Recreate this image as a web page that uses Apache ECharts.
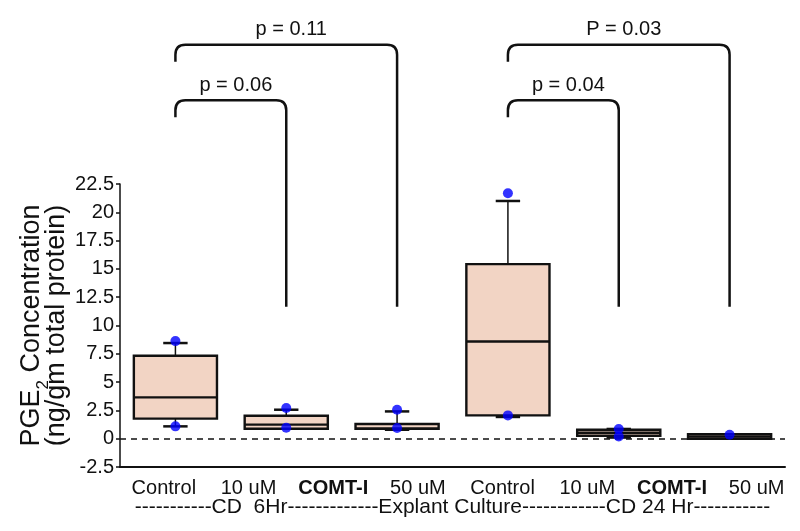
<!DOCTYPE html>
<html>
<head>
<meta charset="utf-8">
<script src="https://cdn.jsdelivr.net/npm/echarts@6/dist/echarts.min.js"></script>
<style>html,body{margin:0;padding:0;background:#fff;}#c{width:800px;height:531px;}</style>
</head>
<body>
<div id="c"></div>
<script>
// ---- data ----
const categories = ['Control 6Hr', '10 uM 6Hr', '50 uM 6Hr', 'Control 24Hr', '10 uM 24Hr', '50 uM 24Hr'];
const boxMin    = [1.09, 0.88, 0.79, 1.92, 0.10, 0.00];
const boxQ1     = [1.77, 0.88, 0.88, 2.06, 0.26, 0.00];
const boxMedian = [3.65, 1.24, 0.88, 8.59, 0.52, 0.20];
const boxQ3     = [7.33, 2.03, 1.30, 15.42, 0.79, 0.40];
const boxMax    = [8.45, 2.56, 2.41, 21.00, 0.86, 0.40];

const pointCat = [0, 0, 1, 1, 2, 2, 3, 3, 4, 4, 5];
const pointVal = [8.62, 1.09, 2.71, 0.97, 2.56, 0.94, 21.69, 2.06, 0.86, 0.20, 0.35];

const bracketFrom  = [0, 0, 3, 3];
const bracketTo    = [1, 2, 4, 5];
const bracketTop   = [29.9, 34.8, 29.9, 34.8];
const bracketHook  = [28.4, 33.3, 28.4, 33.3];
const bracketEnd   = [11.65, 11.65, 11.65, 11.65];
const bracketLabel = ['p = 0.06', 'p = 0.11', 'p = 0.04', 'P = 0.03'];

const groupLabels = ['Control', '10 uM', 'COMT-I', '50 uM', 'Control', '10 uM', 'COMT-I', '50 uM'];
const boldLabels  = ['COMT-I'];
const footerText  = '-----------CD  6Hr-------------Explant Culture------------CD 24 Hr-----------';

const yTicksMin = -2.5, yTicksMax = 22.5, yTickStep = 2.5;

// ---- chart ----
const FONT = "'Liberation Sans', Arial, Helvetica, sans-serif";
const chart = echarts.init(document.getElementById('c'), null, {renderer: 'canvas'});

const boxData = categories.map((c, i) => [i, boxMin[i], boxQ1[i], boxMedian[i], boxQ3[i], boxMax[i]]);
const pointData = pointCat.map((c, i) => [c, pointVal[i]]);
const bracketData = bracketFrom.map((f, i) => [f, bracketTo[i], bracketTop[i], bracketHook[i], bracketEnd[i], i]);

function renderBox(params, api) {
  const i = api.value(0);
  const vMin = api.value(1), q1 = api.value(2), med = api.value(3), q3 = api.value(4), vMax = api.value(5);
  const band = api.size([1, 0])[0];
  const w = band * 0.75, cw = band * 0.22;
  const pMin = api.coord([i, vMin]), pQ1 = api.coord([i, q1]), pMed = api.coord([i, med]);
  const pQ3 = api.coord([i, q3]), pMax = api.coord([i, vMax]);
  const x = pMed[0];
  const children = [];
  const black = '#111';
  if (vMax > q3) {
    children.push({type: 'line', shape: {x1: x, y1: pQ3[1], x2: x, y2: pMax[1]}, style: {stroke: black, lineWidth: 1.5}});
    children.push({type: 'line', shape: {x1: x - cw / 2, y1: pMax[1], x2: x + cw / 2, y2: pMax[1]}, style: {stroke: black, lineWidth: 2.5}});
  }
  if (vMin < q1) {
    children.push({type: 'line', shape: {x1: x, y1: pQ1[1], x2: x, y2: pMin[1]}, style: {stroke: black, lineWidth: 1.5}});
    children.push({type: 'line', shape: {x1: x - cw / 2, y1: pMin[1], x2: x + cw / 2, y2: pMin[1]}, style: {stroke: black, lineWidth: 2.5}});
  }
  const h = pQ1[1] - pQ3[1];
  children.push({type: 'rect', shape: {x: x - w / 2, y: pQ3[1], width: w, height: Math.max(h, 1)},
    style: {fill: '#f2d4c4', stroke: black, lineWidth: 2.4}});
  children.push({type: 'line', shape: {x1: x - w / 2, y1: pMed[1], x2: x + w / 2, y2: pMed[1]}, style: {stroke: black, lineWidth: 2.4}});
  return {type: 'group', children};
}

function renderBracket(params, api) {
  const f = api.value(0), t = api.value(1), top = api.value(2), hook = api.value(3), end = api.value(4);
  const idx = api.value(5);
  const x0 = api.coord([f, top])[0], x1 = api.coord([t, top])[0];
  const yt = api.coord([f, top])[1], yh = api.coord([f, hook])[1], yb = api.coord([t, end])[1];
  const r = 10;
  const d = `M ${x0} ${yh} L ${x0} ${yt + r} Q ${x0} ${yt} ${x0 + r} ${yt} L ${x1 - r} ${yt} Q ${x1} ${yt} ${x1} ${yt + r} L ${x1} ${yb}`;
  return {
    type: 'group',
    children: [
      {type: 'path', shape: {pathData: d}, style: {stroke: '#111', lineWidth: 2.5, fill: null}},
      {type: 'text', style: {text: bracketLabel[idx], x: (x0 + x1) / 2 + 5, y: yt - 5, align: 'center', verticalAlign: 'bottom',
        fill: '#111', font: `20px ${FONT}`}}
    ]
  };
}

const option = {
  animation: false,
  backgroundColor: '#fff',
  grid: [
    {left: 120, right: 15, top: 184, bottom: 64, containLabel: false},
    {left: 121.5, right: 1, top: 184, bottom: 64, containLabel: false}
  ],
  xAxis: [
    {
      type: 'category', gridIndex: 0, data: categories, boundaryGap: true,
      axisLine: {onZero: false, lineStyle: {color: '#111', width: 2}}, axisTick: {show: false}, axisLabel: {show: false},
      splitLine: {show: false},
      name: footerText, nameLocation: 'middle', nameGap: 30, nameMoveOverlap: false,
      nameTextStyle: {fontFamily: FONT, fontSize: 21, color: '#111'}
    },
    {
      type: 'category', gridIndex: 1, boundaryGap: true,
      data: groupLabels.map(l => boldLabels.includes(l) ? {value: l, textStyle: {fontWeight: 'bold'}} : l),
      axisLine: {show: false, onZero: false}, axisTick: {show: false},
      axisLabel: {interval: 0, margin: 11, fontFamily: FONT, fontSize: 20, color: '#111'},
      splitLine: {show: false}
    }
  ],
  yAxis: [
    {
      type: 'value', gridIndex: 0, min: yTicksMin, max: yTicksMax, interval: yTickStep,
      axisLine: {show: true, lineStyle: {color: '#111', width: 1.5}},
      axisTick: {show: true, length: 4, lineStyle: {color: '#111', width: 1.5}},
      axisLabel: {margin: 6, fontFamily: FONT, fontSize: 20, color: '#111'},
      splitLine: {show: false},
      name: '{a|PGE}{s|2}{a| Concentration}\n{a|(ng/gm total protein)}',
      nameLocation: 'middle', nameGap: 51, nameRotate: 90, nameMoveOverlap: false,
      nameTextStyle: {
        fontFamily: FONT, color: '#111',
        rich: {
          a: {fontFamily: FONT, fontSize: 27, lineHeight: 25, color: '#111'},
          s: {fontFamily: FONT, fontSize: 17, lineHeight: 25, color: '#111', verticalAlign: 'bottom', padding: [0, 0, -8, 0]}
        }
      }
    },
    {type: 'value', gridIndex: 1, min: yTicksMin, max: yTicksMax, show: false}
  ],
  series: [
    {
      type: 'custom', name: 'box', xAxisIndex: 0, yAxisIndex: 0, renderItem: renderBox, data: boxData, z: 2,
      encode: {x: 0, y: [1, 2, 3, 4, 5]},
      markLine: {
        silent: true, symbol: 'none', label: {show: false}, z: 1,
        lineStyle: {color: '#111', type: [6, 5], width: 1.5},
        data: [{yAxis: 0}]
      }
    },
    {
      type: 'scatter', name: 'points', xAxisIndex: 0, yAxisIndex: 0, data: pointData, symbol: 'circle', symbolSize: 10,
      itemStyle: {color: '#0000ff'}, z: 5
    },
    {
      type: 'custom', name: 'brackets', xAxisIndex: 0, yAxisIndex: 0, renderItem: renderBracket, data: bracketData,
      clip: false, z: 3, encode: {x: [0, 1], y: [2, 3, 4]}
    },
    {type: 'scatter', xAxisIndex: 1, yAxisIndex: 1, data: [], silent: true}
  ]
};
chart.setOption(option);
</script>
</body>
</html>
